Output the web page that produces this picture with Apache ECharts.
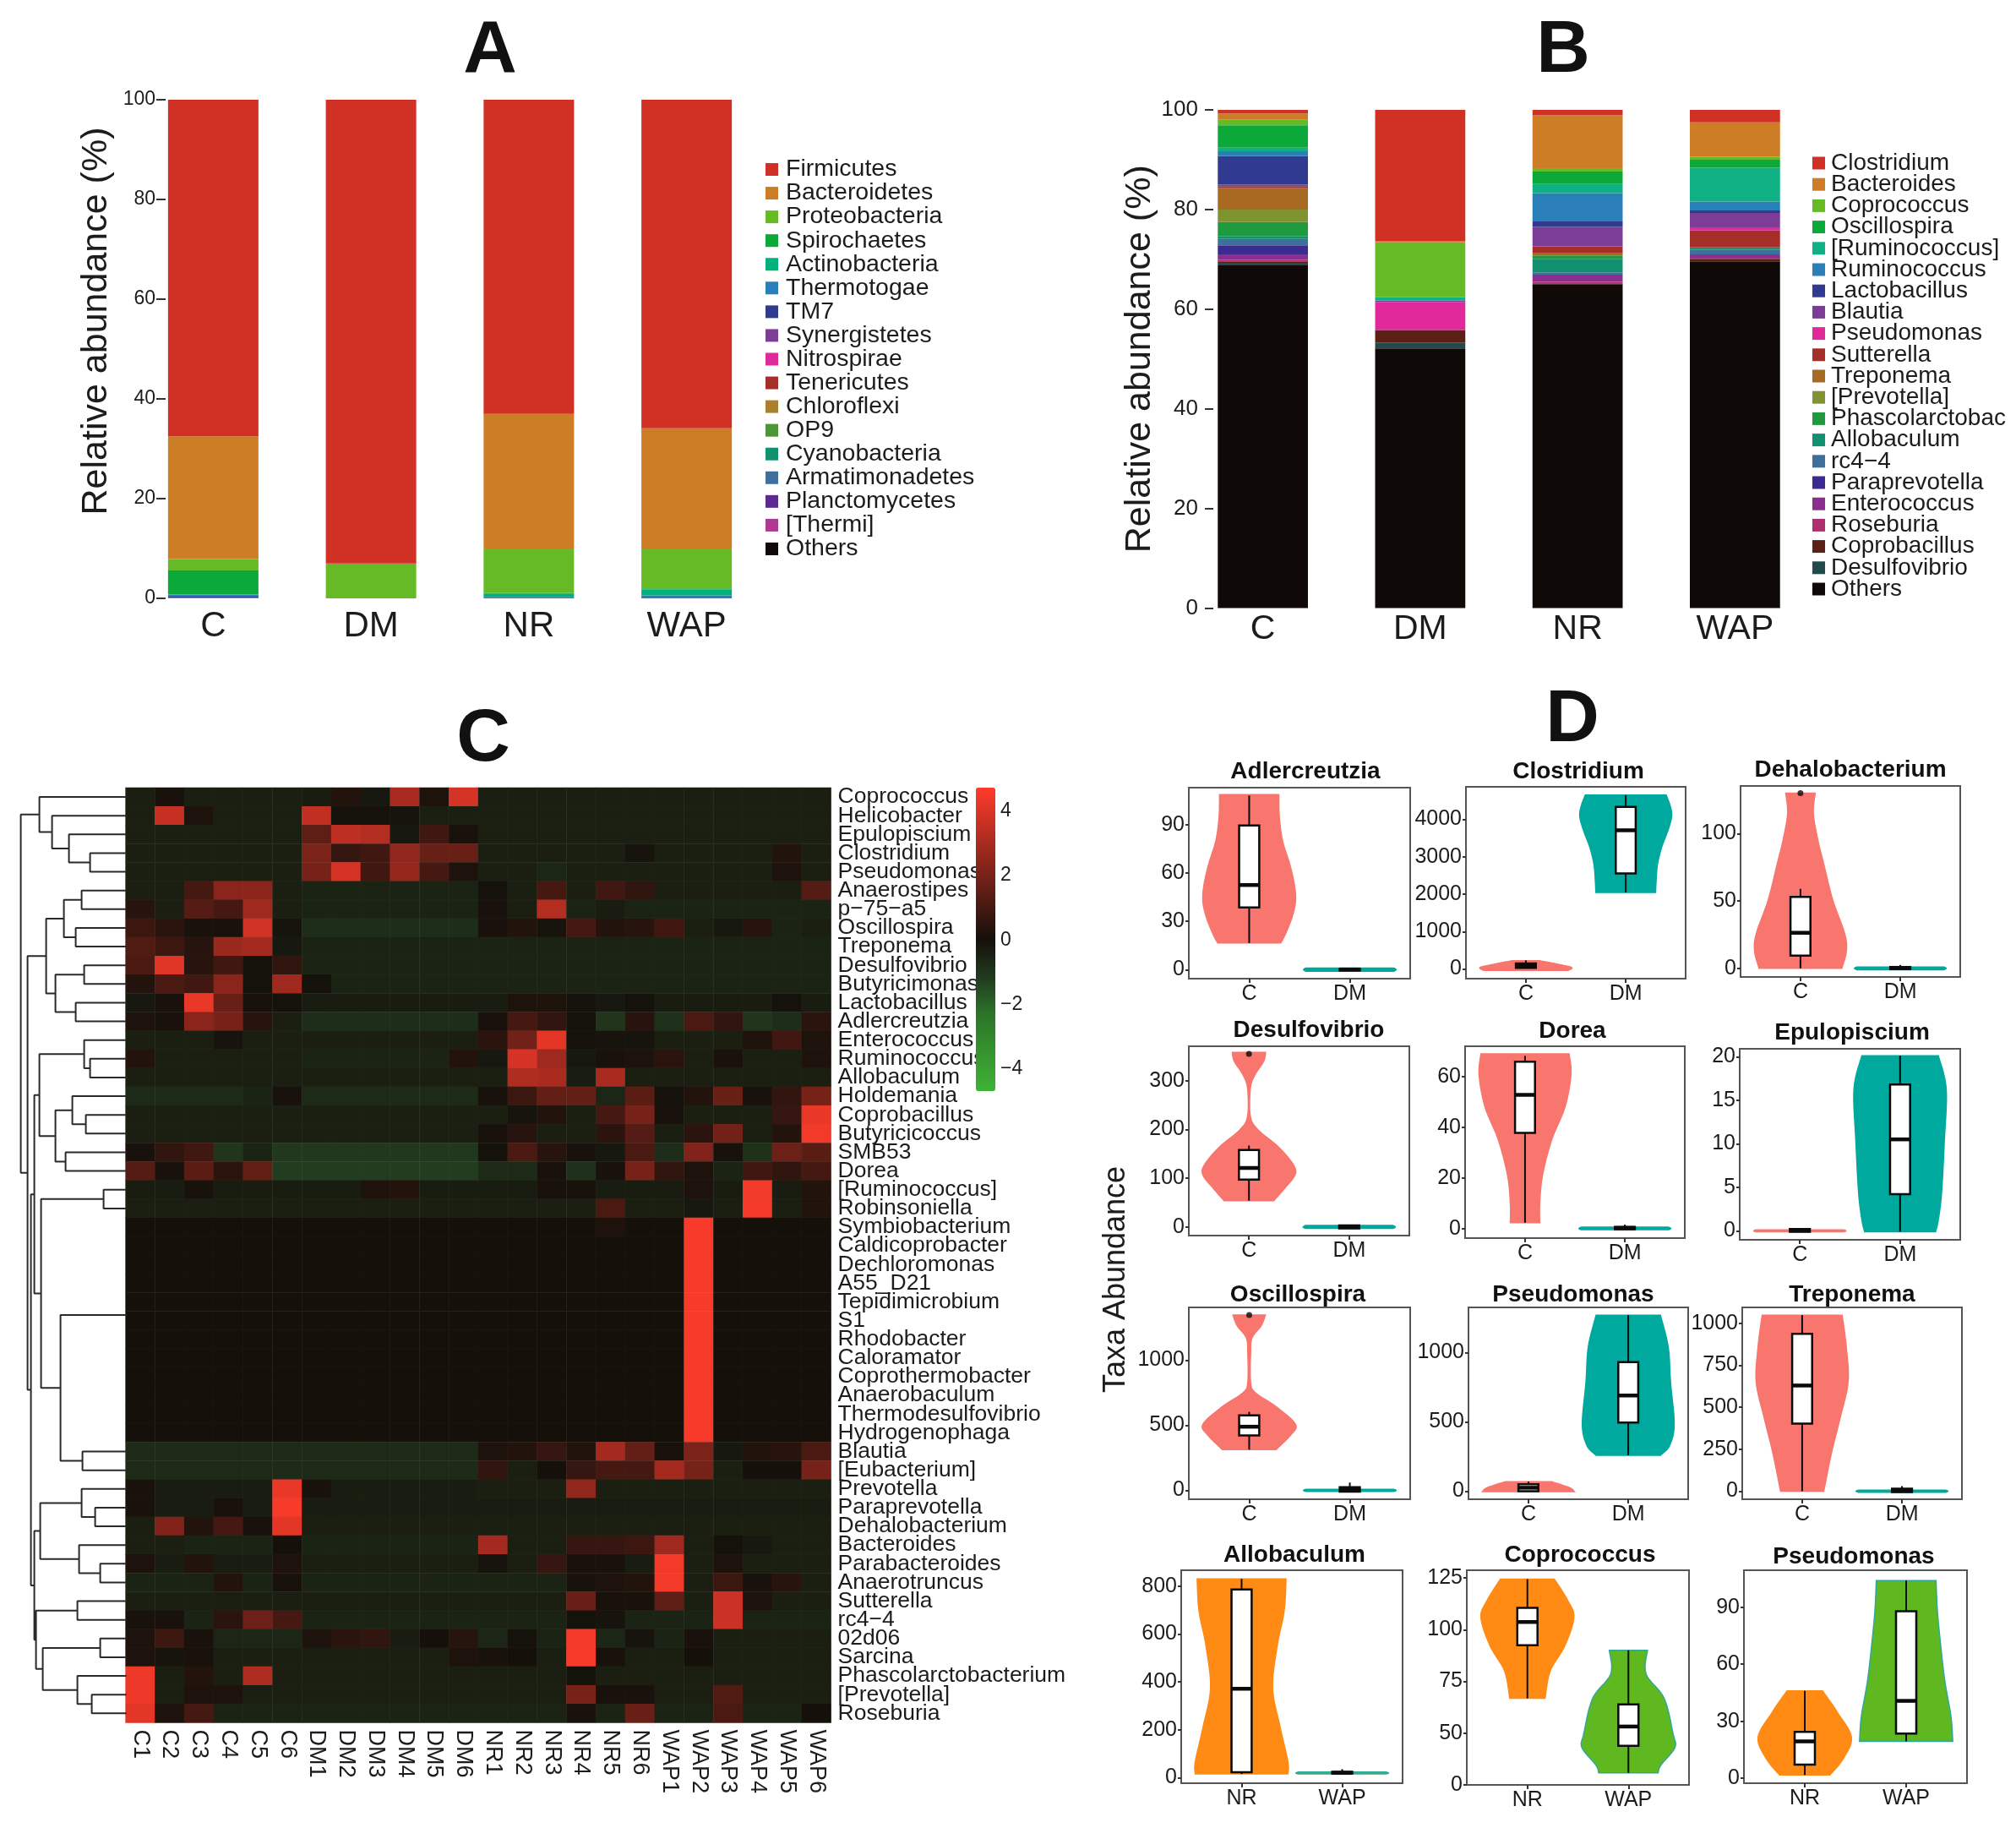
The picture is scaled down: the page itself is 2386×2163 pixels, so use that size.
<!DOCTYPE html>
<html><head><meta charset="utf-8">
<style>html,body{margin:0;padding:0;background:#fff}#c{width:2386px;height:2163px}</style>
<script src="https://cdn.jsdelivr.net/npm/echarts@6/dist/echarts.min.js"></script>
</head><body><div id="c"></div>
<script>
const groups = ['C','DM','NR','WAP'];
// Panel A: phylum abundance, top of stack first
const phylaNames = ['Firmicutes','Bacteroidetes','Proteobacteria','Spirochaetes','Actinobacteria','Thermotogae','TM7','Synergistetes','Nitrospirae','Tenericutes','Chloroflexi','OP9','Cyanobacteria','Armatimonadetes','Planctomycetes','[Thermi]','Others'];
const phylaColors = ['#d13024','#ce7d27','#65ba25','#0aa93a','#00b17e','#2a7fb8','#2f3a90','#7c3d97','#e0299a','#a52f28','#a8802f','#4d9536','#12906f','#3f6f9b','#5b2a90','#ac3a90','#0f0a08'];
const phylaC   = [67.5,24.6,2.3,4.85,0.05,0.25,0.3,0,0,0,0,0,0.05,0.1,0,0,0];
const phylaDM  = [93,0.05,6.95,0,0,0,0,0,0,0,0,0,0,0,0,0,0];
const phylaNR  = [63,27,8.9,0.2,0.6,0.3,0,0,0,0,0,0,0,0,0,0,0];
const phylaWAP = [65.9,24.1,8,0.2,1.2,0.6,0,0,0,0,0,0,0,0,0,0,0];
// Panel B: genus abundance, top of stack first
const genusNames = ['Clostridium','Bacteroides','Coprococcus','Oscillospira','[Ruminococcus]','Ruminococcus','Lactobacillus','Blautia','Pseudomonas','Sutterella','Treponema','[Prevotella]','Phascolarctobac','Allobaculum','rc4\u22124','Paraprevotella','Enterococcus','Roseburia','Coprobacillus','Desulfovibrio','Others'];
const genusColors = ['#d13024','#ce7d27','#65ba25','#0aa93a','#0fb083','#2a7fb8','#2f3a90','#7c3d97','#e0299a','#a52f28','#a86a22','#7f9430','#1f9a3e','#12906f','#3f6f9b','#3b2a90','#8a2f90','#ac2f70','#5a2015','#234a4a','#0f0a08'];
const genusC   = [0.7,1.3,1.1,4.5,0.7,1,5.7,0.3,0,0.4,4.3,2.5,2.9,0.5,1.3,1.8,1.1,0.3,0.3,0.5,68.8];
const genusDM  = [26.3,0.3,11,0,0.7,0,0,0.3,5.6,0,0,0,0,0,0,0,0,0,2.5,1.2,52.1];
const genusNR  = [1.1,10.6,0.7,2.5,1.8,5.7,1.1,3.9,0,1.4,0.4,0,0.7,2.7,0.5,0,1.4,0.3,0.2,0,65];
const genusWAP = [2.5,6.9,0.6,1.6,6.8,1.8,0.5,2.9,0.6,3.4,0,0,0.2,0.3,0.9,0,0.7,0.2,0.5,0,69.6];
const barTicks = [0,20,40,60,80,100];
// Panel C: heat map
const sampleNames = ['C1','C2','C3','C4','C5','C6','DM1','DM2','DM3','DM4','DM5','DM6','NR1','NR2','NR3','NR4','NR5','NR6','WAP1','WAP2','WAP3','WAP4','WAP5','WAP6'];
const taxaNames = ['Coprococcus','Helicobacter','Epulopiscium','Clostridium','Pseudomonas','Anaerostipes','p\u221275\u2212a5','Oscillospira','Treponema','Desulfovibrio','Butyricimonas','Lactobacillus','Adlercreutzia','Enterococcus','Ruminococcus','Allobaculum','Holdemania','Coprobacillus','Butyricicoccus','SMB53','Dorea','[Ruminococcus]','Robinsoniella','Symbiobacterium','Caldicoprobacter','Dechloromonas','A55_D21','Tepidimicrobium','S1','Rhodobacter','Caloramator','Coprothermobacter','Anaerobaculum','Thermodesulfovibrio','Hydrogenophaga','Blautia','[Eubacterium]','Prevotella','Paraprevotella','Dehalobacterium','Bacteroides','Parabacteroides','Anaerotruncus','Sutterella','rc4\u22124','02d06','Sarcina','Phascolarctobacterium','[Prevotella]','Roseburia'];
const heatValues = [
[-.4,.1,-.4,-.4,-.4,-.4,-.3,.3,-.2,3,.2,3.9,-.4,-.4,-.4,-.4,-.4,-.4,-.4,-.4,-.4,-.4,-.4,-.4],
[-.4,3.6,.2,-.4,-.4,-.4,3.5,0,0,-.1,-.4,-.4,-.4,-.4,-.4,-.4,-.4,-.4,-.4,-.4,-.4,-.4,-.4,-.4],
[-.4,-.4,-.4,-.4,-.4,-.4,1.5,3.4,3.2,-.2,.9,.1,-.4,-.4,-.4,-.4,-.4,-.4,-.4,-.4,-.4,-.4,-.4,-.4],
[-.4,-.4,-.4,-.4,-.4,-.4,2.1,.7,.9,2.5,1.7,1.7,-.4,-.4,-.4,-.4,-.4,-.1,-.4,-.4,-.4,-.4,.3,-.4],
[-.4,-.4,-.4,-.4,-.4,-.4,2,3.9,.9,2.6,1,.2,-.4,-.4,-.6,-.4,-.4,-.4,-.4,-.4,-.4,-.4,.2,-.4],
[-.4,-.4,1,2.4,2.4,-.4,-.5,-.5,-.5,-.5,-.5,-.5,0,-.4,1,-.4,.9,.6,-.4,-.4,-.4,-.4,-.4,1.3],
[.4,-.4,1.3,1,2.8,-.4,-.5,-.5,-.5,-.5,-.5,-.5,.1,-.4,3.2,-.5,-.3,-.5,-.5,-.5,-.5,-.5,-.5,-.5],
[.8,.5,.1,.1,3.8,-.1,-.8,-.8,-.8,-.8,-.8,-.8,.1,.3,-.1,1,.3,.4,.9,-.4,-.2,.4,-.5,-.4],
[1.2,.8,.4,2.7,2.9,-.2,-.5,-.5,-.5,-.5,-.5,-.5,-.5,-.5,-.5,-.5,-.5,-.5,-.5,-.5,-.5,-.5,-.5,-.5],
[1.1,4.1,.4,.9,0,.6,-.5,-.5,-.5,-.5,-.5,-.5,-.5,-.5,-.5,-.5,-.5,-.5,-.5,-.5,-.5,-.5,-.5,-.5],
[.3,1.1,.9,2.4,0,2.8,0,-.5,-.5,-.5,-.5,-.5,-.5,-.5,-.5,-.5,-.5,-.5,-.5,-.5,-.5,-.5,-.5,-.5],
[-.2,.1,4.3,1.7,.1,0,-.3,-.3,-.3,-.3,-.3,-.3,-.3,.2,.2,0,-.2,0,-.3,-.3,-.3,-.3,0,-.3],
[.2,.1,2.4,2,.4,-.4,-.8,-.8,-.8,-.8,-.8,-.8,.1,1,.6,0,-1,.4,-.9,1.1,.6,-1,-.8,.5],
[-.4,-.4,-.4,-.1,-.4,-.4,-.4,-.4,-.4,-.4,-.4,-.4,.5,1.9,4.2,0,-.1,-.1,-.4,-.4,-.4,.2,.9,.2],
[.3,-.4,-.4,-.4,-.4,-.4,-.5,-.5,-.5,-.5,-.5,.3,-.2,3.9,2.8,-.2,.1,.2,.5,-.4,.1,-.4,-.4,.2],
[-.4,-.4,-.4,-.4,-.4,-.4,-.4,-.4,-.4,-.4,-.4,-.4,-.4,3.1,3,-.3,3,-.4,-.4,-.4,-.4,-.4,-.4,-.4],
[-.7,-.7,-.7,-.7,-.5,.1,-.7,-.7,-.7,-.7,-.7,-.7,.1,.8,1.6,1.6,-.6,1.4,0,.3,1.7,.1,.6,2],
[-.4,-.4,-.4,-.4,-.4,-.4,-.4,-.4,-.4,-.4,-.4,-.4,-.4,-.1,.3,-.4,1,2,.1,-.4,-.4,-.4,.7,4.3],
[-.4,-.4,-.4,-.4,-.4,-.4,-.4,-.4,-.4,-.4,-.4,-.4,.1,.4,-.4,-.4,.5,1.3,-.4,.5,1.9,-.4,.3,4.5],
[.1,.6,.9,-1,-.5,-1.1,-1.1,-1.1,-1.1,-1.1,-1.1,-1.1,0,1.1,.4,.1,-.2,1.1,-.8,2.2,.1,-.9,1.8,1.4],
[1.3,.1,1.4,.5,1.6,-1.2,-1.2,-1.2,-1.2,-1.2,-1.2,-1.2,-.7,-.7,.1,-.9,.1,2,.6,.2,-.5,.9,.6,1],
[-.3,-.3,.1,-.3,-.3,-.3,-.3,-.3,.2,.3,-.3,-.3,-.3,-.3,.1,.1,-.3,-.3,-.3,.2,-.3,4.5,-.3,.3],
[-.4,-.4,-.4,-.4,-.4,-.4,-.4,-.4,-.4,-.4,-.4,-.4,-.4,-.4,-.4,-.4,1.1,-.4,-.4,-.2,-.4,4.5,-.4,.3],
[.05,.05,.05,.05,.05,.05,.05,.05,.05,.05,.05,.05,.05,.05,.05,.05,.2,.05,.05,4.6,.05,.05,.05,.05],
[.05,.05,.05,.05,.05,.05,.05,.05,.05,.05,.05,.05,.05,.05,.05,.05,.05,.05,.05,4.6,.05,.05,.05,.05],
[.05,.05,.05,.05,.05,.05,.05,.05,.05,.05,.05,.05,.05,.05,.05,.05,.05,.05,.05,4.6,.05,.05,.05,.05],
[.05,.05,.05,.05,.05,.05,.05,.05,.05,.05,.05,.05,.05,.05,.05,.05,.05,.05,.05,4.6,.05,.05,.05,.05],
[.05,.05,.05,.05,.05,.05,.05,.05,.05,.05,.05,.05,.05,.05,.05,.05,.05,.05,.05,4.6,.05,.05,.05,.05],
[.05,.05,.05,.05,.05,.05,.05,.05,.05,.05,.05,.05,.05,.05,.05,.05,.05,.05,.05,4.6,.05,.05,.05,.05],
[.05,.05,.05,.05,.05,.05,.05,.05,.05,.05,.05,.05,.05,.05,.05,.05,.05,.05,.05,4.6,.05,.05,.05,.05],
[.05,.05,.05,.05,.05,.05,.05,.05,.05,.05,.05,.05,.05,.05,.05,.05,.05,.05,.05,4.6,.05,.05,.05,.05],
[.05,.05,.05,.05,.05,.05,.05,.05,.05,.05,.05,.05,.05,.05,.05,.05,.05,.05,.05,4.6,.05,.05,.05,.05],
[.05,.05,.05,.05,.05,.05,.05,.05,.05,.05,.05,.05,.05,.05,.05,.05,.05,.05,.05,4.6,.05,.05,.05,.05],
[.05,.05,.05,.05,.05,.05,.05,.05,.05,.05,.05,.05,.05,.05,.05,.05,.05,.05,.05,4.6,.05,.05,.05,.05],
[.05,.05,.05,.05,.05,.05,.05,.05,.05,.05,.05,.05,.05,.05,.05,.05,.05,.05,.05,4.6,.05,.05,.05,.05],
[-.7,-.7,-.7,-.7,-.7,-.7,-.7,-.7,-.7,-.7,-.7,-.7,.2,.3,.7,.3,2.9,1.6,.1,2.1,-.2,.3,.4,1.1],
[-.7,-.7,-.7,-.7,-.7,-.7,-.7,-.7,-.7,-.7,-.7,-.7,.6,-.4,.05,.7,1,1,2.9,2,-.4,.05,.05,2],
[.1,-.3,-.3,-.3,-.3,4.3,.1,-.3,-.3,-.3,-.3,-.3,-.4,-.4,-.4,2.5,-.4,-.4,-.4,-.4,-.4,-.4,-.4,-.4],
[.1,-.35,-.35,.1,-.35,4.6,-.35,-.35,-.35,-.35,-.35,-.35,-.35,-.35,-.35,-.35,-.35,-.35,-.35,-.35,-.35,-.35,-.35,-.35],
[-.4,2.2,.3,1,.1,4.2,-.4,-.4,-.4,-.4,-.4,-.4,-.4,-.4,-.4,-.4,-.4,-.4,-.4,-.4,-.4,-.4,-.4,-.4],
[-.4,-.4,-.5,-.5,-.5,.05,-.5,-.5,-.5,-.5,-.5,-.5,2.9,-.4,-.4,.7,.7,.8,2.8,-.4,0,-.2,-.4,-.4],
[.2,-.3,.3,-.3,-.3,.2,-.4,-.4,-.4,-.4,-.4,-.4,-.1,-.4,.7,.1,.1,-.3,4.5,-.4,.2,-.4,-.4,-.4],
[-.5,-.5,-.5,.3,-.5,.1,-.5,-.5,-.5,-.5,-.5,-.5,-.5,-.5,-.5,.1,.2,.3,4.5,-.4,.8,.1,.4,-.4],
[-.4,-.4,-.4,-.4,-.4,-.4,-.4,-.4,-.4,-.4,-.4,-.4,-.4,-.4,-.4,1.7,.1,.1,1.5,-.4,3.7,.2,-.4,-.4],
[.1,.1,-.5,.5,1.8,1,-.5,-.5,-.5,-.5,-.5,-.5,-.5,-.5,-.5,0,-.1,-.5,-.5,-.5,3.7,-.5,-.5,-.5],
[.2,.8,.1,-.6,-.6,-.6,.2,.5,.6,-.3,.05,.4,-.6,0,-.5,4.5,-.6,-.1,-.5,.1,-.4,-.4,-.4,-.4],
[.2,-.1,.1,-.4,-.4,-.4,-.4,-.4,-.4,-.4,-.4,.2,.1,.05,-.4,4.6,.1,-.4,-.4,.05,-.4,-.4,-.4,-.4],
[4.4,-.4,.3,-.4,3.1,-.4,-.4,-.4,-.4,-.4,-.4,-.4,-.4,-.4,-.4,0,-.4,-.4,-.4,-.4,-.4,-.4,-.4,-.4],
[4.4,-.4,.2,.2,-.4,-.4,-.4,-.4,-.4,-.4,-.4,-.4,-.4,-.4,-.4,2,.1,.1,-.4,-.4,1.2,-.4,-.4,-.4],
[4.2,.2,1,-.5,-.5,-.5,-.5,-.5,-.5,-.5,-.5,-.5,-.5,-.5,-.5,.1,-.5,1.7,-.5,-.5,1.1,-.5,-.5,.05]
];
const heatTicks = [-4,-2,0,2,4];
// Row clustering: [merge height, upper branch, lower branch]; a number is a row index
const rowClusters = [124,
  [102,0,[87,1,[67,2,[42,3,4]]]],
  [116,
    [94,[73,[52,5,6],[59,7,8]],[83,[49,9,10],[59,11,12]]],
    [112,
      [108,
        [102,[49,13,[42,14,15]],[83,[63,16,[47,17,18]],[71,19,20]]],
        [100,[26,21,22],[77,27.7,[51,35,36]]]],
      [108,
        [101,[52,37,[36,38,39]],[55,40,[30,41,42]]],
        [106,[57,43,44],[98,[30,45,46],[57,47,[40,48,49]]]]]]]];
// Panel D: [value, relative density] outlines and [min,q1,median,q3,max] boxes
const adlerC = [[108.6,.64],[95,.65],[80,.72],[65,.88],[52,.98],[42,1],[32,.92],[22,.78],[16.5,.68]];
const adlerDM = [[1,.95],[0,1],[-1,.95]];
const adlerBox = [[16.5,38.6,52.5,89.4,108],[0,-.5,.1,.5,1]];
const clostC = [[221,.3],[110,.77],[37,1],[-37,.92]];
const clostDM = [[4645,.88],[4350,.97],[4074,1],[3705,.92],[3244,.78],[2783,.69],[2323,.66],[2046,.65]];
const clostBox = [[10,30,90,150,230],[2046,2553,3705,4332,4645]];
const dehaloC = [[130,.32],[115,.28],[95,.38],[77,.51],[51,.7],[26,.96],[13,1],[0,.9]];
const dehaloDM = [[1,.95],[0,1],[-1,.95]];
const dehaloBox = [[0,9.5,26.4,53,59],[0,-.5,.3,1,2.5]];
const desulC = [[358,.36],[340,.32],[312,.13],[284,.03],[227,.03],[199,.2],[164,.64],[128,.96],[107,1],[79,.77],[54,.54]];
const desulDM = [[3,.95],[0,1],[-3,.95]];
const desulBox = [[54,97,121,158,167],[0,-3,0,3,4]];
const doreaC = [[69,.96],[60.7,1],[48,.87],[35,.58],[21,.38],[10,.32],[2.3,.32]];
const doreaDM = [[.5,.95],[0,1],[-.5,.95]];
const doreaBox = [[2.3,37.8,52.8,65.9,68.2],[0,-.3,.2,.6,1.5]];
const epuloC = [[.12,.95],[0,1],[-.12,.95]];
const epuloDM = [[20.1,.83],[16.3,1],[10.4,.96],[4.4,.9],[1.3,.83],[-.1,.77]];
const epuloBox = [[0,-.1,.05,.2,.3],[-.1,4.2,10.5,16.8,20.1]];
const oscilC = [[1346,.35],[1265,.26],[1170,.06],[1049,.03],[832,.03],[751,.13],[643,.58],[508,1],[427,.9],[313,.58]];
const oscilDM = [[8,.95],[0,1],[-8,.95]];
const oscilBox = [[313,422,489,576,603],[0,-10,8,25,60]];
const pseudoC = [[68,.51],[25,.9],[-3,1]];
const pseudoDM = [[1269,.7],[1040,.87],[787,.92],[482,1],[330,.9],[259,.7]];
const pseudoBox = [[0,0,25,50,70],[259,495,690,931,1269]];
const trepoC = [[1048,.87],[860,.96],[650,1],[440,.83],[230,.64],[0,.47]];
const trepoDM = [[6,.95],[0,1],[-6,.95]];
const trepoBox = [[0,402,629,937,1048],[0,-5,5,15,30]];
const alloNR = [[830,.96],[697,.92],[551,.77],[374,.67],[213,.83],[66,1],[15,1]];
const alloWAP = [[23,.95],[19,1],[15,.95]];
const alloBox = [[15,22,371,786,830],[15,17,20,24,35]];
const coproNR = [[124.4,.58],[114,.87],[105.8,1],[92,.8],[80,.49],[66.8,.38]];
const coproWAP = [[90,.41],[78.6,.38],[66.8,.77],[49.8,.96],[43,1],[34.6,.7],[30.8,.64]];
const coproBox = [[66.8,92.5,103.7,110.5,124.4],[30.8,43.9,53.2,63.9,90]];
const pseudo2NR = [[46,.38],[34.6,.7],[21.6,1],[10.5,.83],[1.7,.54]];
const pseudo2WAP = [[104,.64],[88,.67],[70,.74],[51,.83],[32.7,.96],[19.4,1]];
const pseudo2Box = [[1.7,7.2,19.4,24.4,46],[19.4,23.5,40.7,87.8,104]];

const FONT = '"Liberation Sans", Arial, sans-serif';
const INK = '#1c1c1c';
const panelTable = [
 {title:'Adlercreutzia',cats:['C','DM'],v:[adlerC,adlerDM],box:adlerBox,out:[],ticks:[0,30,60,90],range:[-5.6,112.9]},
 {title:'Clostridium',cats:['C','DM'],v:[clostC,clostDM],box:clostBox,out:[],ticks:[0,1000,2000,3000,4000],range:[-258,4866]},
 {title:'Dehalobacterium',cats:['C','DM'],v:[dehaloC,dehaloDM],box:dehaloBox,out:[[1,130]],ticks:[0,50,100],range:[-6.4,135.4]},
 {title:'Desulfovibrio',cats:['C','DM'],v:[desulC,desulDM],box:desulBox,out:[[1,355]],ticks:[0,100,200,300],range:[-17.6,370.5]},
 {title:'Dorea',cats:['C','DM'],v:[doreaC,doreaDM],box:doreaBox,out:[],ticks:[0,20,40,60],range:[-3.8,72]},
 {title:'Epulopiscium',cats:['C','DM'],v:[epuloC,epuloDM],box:epuloBox,out:[],ticks:[0,5,10,15,20],range:[-1.03,20.9]},
 {title:'Oscillospira',cats:['C','DM'],v:[oscilC,oscilDM],box:oscilBox,out:[[1,1346]],ticks:[0,500,1000],range:[-68,1405]},
 {title:'Pseudomonas',cats:['C','DM'],v:[pseudoC,pseudoDM],box:pseudoBox,out:[],ticks:[0,500,1000],range:[-58,1325]},
 {title:'Treponema',cats:['C','DM'],v:[trepoC,trepoDM],box:trepoBox,out:[],ticks:[0,250,500,750,1000],range:[-48,1094]},
 {title:'Allobaculum',cats:['NR','WAP'],v:[alloNR,alloWAP],box:alloBox,out:[],ticks:[0,200,400,600,800],range:[-23.5,866]},
 {title:'Coprococcus',cats:['NR','WAP'],v:[coproNR,coproWAP],box:coproBox,out:[],ticks:[25,50,75,100,125],range:[25,128.7],lowLabel:'0'},
 {title:'Pseudomonas',cats:['NR','WAP'],v:[pseudo2NR,pseudo2WAP],box:pseudo2Box,out:[],ticks:[0,30,60,90],range:[-2.6,109.4]}
];
// layout of the small panels: left, top, right, bottom, title x, title y
const panelFrames = [
 [1407,932,1669,1158,1545,913],[1735,931,1995,1158,1868,913],[2060,930,2320,1156,2190,911],
 [1407,1238,1668,1462,1549,1219],[1734,1238,1994,1465,1861,1220],[2059,1241,2320,1467,2192,1222],
 [1407,1547,1669,1774,1536,1532],[1738,1547,1998,1774,1862,1532],[2062,1547,2322,1774,2192,1532],
 [1398,1858,1660,2110,1532,1840],[1736,1858,1999,2112,1870,1840],[2064,1858,2328,2110,2194,1842]
];
const violinFill = {C:'#f8766d',DM:'#00a99d',NR:'#ff8a14',WAP:'#5fb820'};
const violinEdge = {C:'#f8766d',DM:'#00a99d',NR:'#ff8a14',WAP:'#2fa89c'};
const VIOLIN_UNIT = .46, BOX_HALF = .1;

const grid=[],xAxis=[],yAxis=[],series=[],title=[];
function text(t,x,y,size,bold){return {text:t,left:x,top:y,textAlign:'center',textVerticalAlign:'middle',padding:0,textStyle:{fontFamily:FONT,fontSize:size,fontWeight:bold?'bold':'normal',color:'#111'}};}
[['A',580,61],['B',1850,61],['C',572,876],['D',1861,853]].forEach(p=>title.push(text(p[0],p[1],p[2],88,true)));

// stacked bars
function addBars(cfg){
  const g=grid.length;
  grid.push({left:cfg.left,width:cfg.width,top:cfg.top,height:cfg.height});
  xAxis.push({gridIndex:g,type:'category',data:groups,axisLine:{show:false},axisTick:{show:false},
    axisLabel:{interval:0,fontFamily:FONT,fontSize:cfg.catFont,color:INK,margin:cfg.catMargin}});
  yAxis.push({gridIndex:g,type:'value',min:0,max:100,offset:cfg.axisOffset,
    name:'Relative abundance (%)',nameLocation:'middle',nameGap:cfg.nameGap,
    nameTextStyle:{fontFamily:FONT,fontSize:cfg.nameFont,color:INK,padding:cfg.namePad},
    splitLine:{show:false},axisLine:{show:false},axisTick:{show:true,length:cfg.tick,lineStyle:{color:'#333',width:2}},
    axisLabel:{customValues:barTicks,fontFamily:FONT,fontSize:cfg.tickFont,color:INK,margin:cfg.tickMargin}});
  for(let i=cfg.names.length-1;i>=0;i--){
    series.push({name:cfg.names[i],type:'bar',stack:cfg.stack,xAxisIndex:g,yAxisIndex:g,barWidth:'57.3%',
      itemStyle:{color:cfg.colors[i]},data:cfg.rows.map(r=>r[i])});
  }
}
addBars({left:159,width:747,top:118,height:590,names:phylaNames,colors:phylaColors,rows:[phylaC,phylaDM,phylaNR,phylaWAP],stack:'a',catFont:42,catMargin:12,axisOffset:-37,nameGap:60,nameFont:43,namePad:[0,0,0,66],tick:11,tickMargin:12,tickFont:23});
addBars({left:1401.5,width:745,top:130,height:589.5,names:genusNames,colors:genusColors,rows:[genusC,genusDM,genusNR,genusWAP],stack:'b',catFont:41,catMargin:5,axisOffset:-34.5,nameGap:61,nameFont:43,namePad:0,tick:10,tickMargin:18,tickFont:26});

const legend=[
 {data:phylaNames,orient:'vertical',left:906,top:186,padding:0,itemGap:-.94,itemWidth:15,itemHeight:15,icon:'rect',selectedMode:false,textStyle:{fontFamily:FONT,fontSize:28.5,lineHeight:28,color:INK,padding:[0,0,0,4]}},
 {data:genusNames,orient:'vertical',left:2145,top:179,padding:0,itemGap:-2.8,itemWidth:15,itemHeight:15,icon:'rect',selectedMode:false,textStyle:{fontFamily:FONT,fontSize:28,lineHeight:28,color:INK,padding:[0,0,0,2]}}
];

// heat map
const heatGrid=grid.length;
grid.push({left:148.6,width:835,top:932,height:1106.4});
xAxis.push({gridIndex:heatGrid,type:'category',data:sampleNames,axisLine:{show:false},axisTick:{show:false},splitLine:{show:false},
  axisLabel:{interval:0,rotate:-90,fontFamily:FONT,fontSize:27,color:INK,margin:8}});
yAxis.push({gridIndex:heatGrid,type:'category',data:taxaNames,inverse:true,position:'right',axisLine:{show:false},axisTick:{show:false},splitLine:{show:false},
  axisLabel:{interval:0,fontFamily:FONT,fontSize:26.5,color:INK,margin:8,hideOverlap:false,padding:[0,0,3,0]}});
const heatData=[];
heatValues.forEach((r,y)=>r.forEach((v,x)=>heatData.push([x,y,v])));
const heatSeriesIndex=series.length;
series.push({type:'heatmap',xAxisIndex:heatGrid,yAxisIndex:heatGrid,data:heatData,progressive:0,
  itemStyle:{borderWidth:.5,borderColor:'rgba(130,130,90,.10)'}});
const visualMap=[{type:'continuous',seriesIndex:heatSeriesIndex,min:-4.68,max:4.73,calculable:false,left:1155,top:932,itemWidth:23,itemHeight:359,padding:0,text:['',''],showLabel:false,
  inRange:{color:['#3db335','#36942f','#2d7528','#223a1f','#15100b','#4f1b13','#8a251b','#c43023','#ff3b2b']}}];
// colour-bar scale
const barGrid=grid.length;
grid.push({left:1155,width:23,top:932,height:359,show:false});
xAxis.push({gridIndex:barGrid,type:'value',show:false,min:0,max:1});
yAxis.push({gridIndex:barGrid,type:'value',position:'right',min:-4.68,max:4.73,axisLine:{show:false},axisTick:{show:false},splitLine:{show:false},
  axisLabel:{customValues:heatTicks,fontFamily:FONT,fontSize:23,color:INK,margin:6,formatter:v=>String(v).replace('-','\u2212')}});
series.push({type:'scatter',xAxisIndex:barGrid,yAxisIndex:barGrid,data:[],silent:true});

// dendrogram
const treeGrid=grid.length;
grid.push({left:0,width:148.6,top:932,height:1106.4,show:false});
xAxis.push({gridIndex:treeGrid,type:'value',show:false,inverse:true,min:0,max:148.6});
yAxis.push({gridIndex:treeGrid,type:'value',show:false,inverse:true,min:0,max:50});
const treePts=[];
function walk(n){
  if(typeof n==='number') return {h:0,y:n+.5};
  const a=walk(n[1]),b=walk(n[2]);
  treePts.push([a.h,a.y],[n[0],a.y],[n[0],b.y],[b.h,b.y],['-','-']);
  return {h:n[0],y:(a.y+b.y)/2};
}
walk(rowClusters);
series.push({type:'line',xAxisIndex:treeGrid,yAxisIndex:treeGrid,data:treePts,showSymbol:false,connectNulls:false,silent:true,
  lineStyle:{color:'#2a2a2a',width:2,cap:'square'},animation:false});

// draws a smooth curve through the read outline points (pixel space only)
function smoothSide(pts){
  const out=[];
  for(let i=0;i<pts.length-1;i++){
    const p0=pts[Math.max(i-1,0)],p1=pts[i],p2=pts[i+1],p3=pts[Math.min(i+2,pts.length-1)];
    for(let s=0;s<8;s++){
      const t=s/8,t2=t*t,t3=t2*t;
      out.push([0,1].map(d=>.5*(2*p1[d]+(p2[d]-p0[d])*t+(2*p0[d]-5*p1[d]+4*p2[d]-p3[d])*t2+(3*p1[d]-p0[d]-3*p2[d]+p3[d])*t3)));
    }
  }
  out.push(pts[pts.length-1]);
  return out;
}

// violins
panelTable.forEach((p,i)=>{
  const f=panelFrames[i], g=grid.length;
  grid.push({left:f[0],top:f[1],width:f[2]-f[0],height:f[3]-f[1],show:true,borderColor:'#555',borderWidth:2,backgroundColor:'#fff'});
  xAxis.push({gridIndex:g,type:'value',min:.4,max:2.6,splitLine:{show:false},axisLine:{show:false,onZero:false},
    axisTick:{show:true,customValues:[1,2],length:5,lineStyle:{color:'#333',width:2}},
    axisLabel:{customValues:[1,2],formatter:v=>p.cats[v-1],fontFamily:FONT,fontSize:25,color:INK,margin:6}});
  yAxis.push({gridIndex:g,type:'value',min:p.range[0],max:p.range[1],splitLine:{show:false},axisLine:{show:false,onZero:false},
    axisTick:{show:true,customValues:p.ticks,length:4,lineStyle:{color:'#333',width:2}},
    axisLabel:{customValues:p.ticks,fontFamily:FONT,fontSize:25,color:INK,margin:5,formatter:v=>(p.lowLabel&&v===p.ticks[0])?p.lowLabel:String(v)}});
  title.push(text(p.title,f[4],f[5],28,true));
  p.v.forEach((prof,k)=>{
    const xc=k+1,cat=p.cats[k];
    series.push({type:'custom',name:p.title+' '+cat,xAxisIndex:g,yAxisIndex:g,silent:true,clip:true,
      encode:{x:0,y:1},data:prof.map(r=>[xc,r[0],r[1]]),
      renderItem:(params,api)=>{
        if(params.dataIndex!==0) return;
        const right=smoothSide(prof.map(r=>api.coord([xc+r[1]*VIOLIN_UNIT,r[0]])));
        const left=smoothSide(prof.slice().reverse().map(r=>api.coord([xc-r[1]*VIOLIN_UNIT,r[0]])));
        return {type:'polygon',shape:{points:right.concat(left)},style:{fill:violinFill[cat],stroke:violinEdge[cat],lineWidth:1.5}};
      }});
  });
  series.push({type:'custom',name:p.title+' box',xAxisIndex:g,yAxisIndex:g,silent:true,clip:true,z:3,
    encode:{x:0,y:[1,2,3,4,5]},data:p.box.map((b,k)=>[k+1].concat(b)),
    renderItem:(params,api)=>{
      const x=api.value(0),pt=(dx,v)=>api.coord([x+dx,v]);
      const [mn,q1,md,q3,mx]=[1,2,3,4,5].map(d=>api.value(d));
      const tl=pt(-BOX_HALF,q3),br=pt(BOX_HALF,q1);
      const ln=(a,b,w)=>({type:'line',shape:{x1:a[0],y1:a[1],x2:b[0],y2:b[1]},style:{stroke:'#0b0b0b',lineWidth:w}});
      return {type:'group',children:[
        ln(pt(0,mn),pt(0,mx),2),
        {type:'rect',shape:{x:tl[0],y:tl[1],width:br[0]-tl[0],height:br[1]-tl[1]},style:{fill:'#fff',stroke:'#0b0b0b',lineWidth:2.5}},
        ln(pt(-BOX_HALF,md),pt(BOX_HALF,md),4.5)
      ]};
    }});
  if(p.out.length) series.push({type:'scatter',xAxisIndex:g,yAxisIndex:g,z:4,silent:true,symbolSize:7,itemStyle:{color:'#0b0b0b'},data:p.out});
});

const graphic=[{type:'text',x:1321,y:1514,rotation:Math.PI/2,style:{text:'Taxa Abundance',fontFamily:FONT,fontSize:36,fill:INK,align:'center',verticalAlign:'middle'}}];

const chart=echarts.init(document.getElementById('c'),null,{renderer:'canvas'});
chart.setOption({animation:false,backgroundColor:'#fff',title,legend,grid,xAxis,yAxis,visualMap,series,graphic,tooltip:{show:false}});
</script>
</body></html>
